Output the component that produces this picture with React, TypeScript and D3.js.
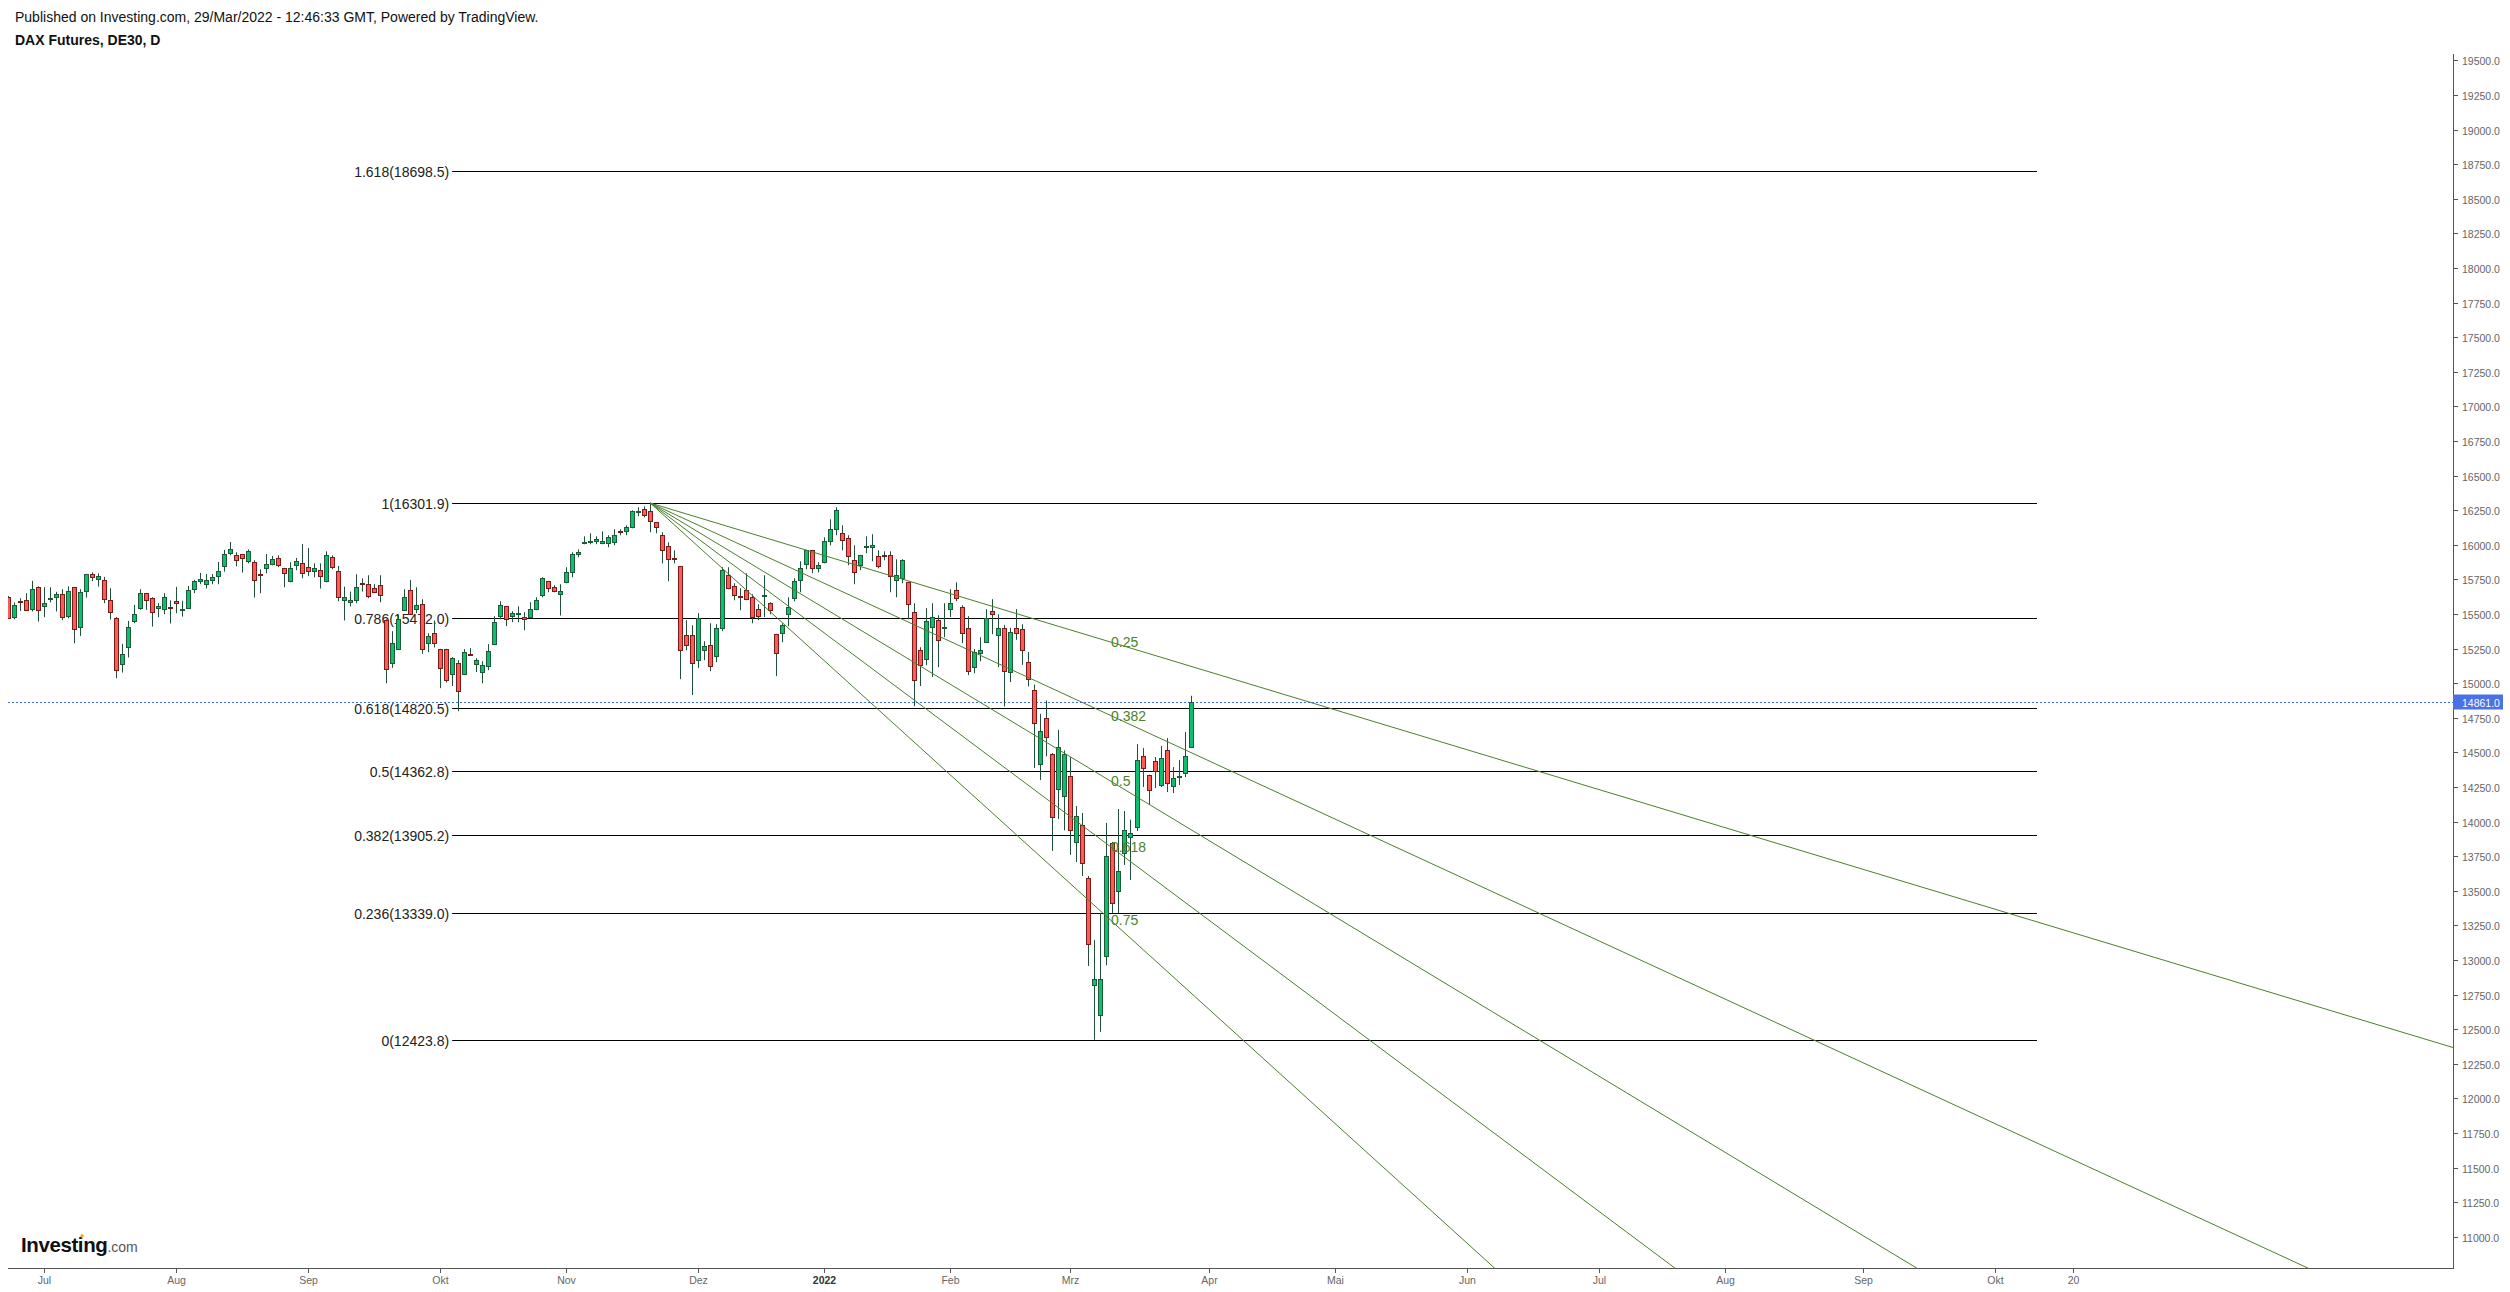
import React from "react";
import * as d3 from "d3";

// ---------- data ----------
const opens = [
  15626, 15477, 15595, 15599, 15534, 15698, 15556, 15611, 15621, 15643,
  15484, 15693, 15409, 15664, 15787, 15756, 15744, 15599, 15469, 15137,
  15265, 15448, 15542, 15650, 15614, 15542, 15534, 15554, 15592, 15534,
  15542, 15679, 15737, 15715, 15744, 15773, 15845, 15939, 15924, 15931,
  15881, 15874, 15787, 15830, 15859, 15903, 15830, 15737, 15852, 15866,
  15838, 15809, 15816, 15737, 15910, 15809, 15599, 15585, 15599, 15722,
  15715, 15686, 15708, 15460, 15145, 15246, 15527, 15672, 15534, 15570,
  15289, 15366, 15246, 15246, 15065, 15145, 15065, 15212, 15137, 15080,
  15123, 15282, 15484, 15556, 15484, 15503, 15477, 15477, 15534, 15635,
  15737, 15693, 15643, 15729, 15801, 15931, 16016, 16023, 16025, 16011,
  16011, 16018, 16100, 16097, 16126, 16239, 16256, 16242, 16162, 16069,
  15989, 15907, 15845, 15347, 15347, 15166, 15238, 15275, 15195, 15397,
  15780, 15700, 15631, 15672, 15621, 15534, 15631, 15578, 15354, 15361,
  15498, 15614, 15744, 15859, 15960, 15830, 15874, 16025, 16112, 16083,
  16047, 15888, 15852, 15987, 15982, 15917, 15927, 15924, 15744, 15758,
  15729, 15513, 15238, 15173, 15404, 15455, 15402, 15534, 15672, 15549,
  15397, 15116, 15217, 15296, 15520, 15347, 15400, 15080, 15397, 15392,
  15156, 14952, 14416, 14748, 14490, 14235, 14185, 14329, 13853, 13975,
  13593, 12820, 12604, 13030, 13845, 13499, 13773, 13889, 13961, 14473,
  14336, 14437, 14264, 14517, 14257, 14324, 14351, 14538,
];
const highs = [
  15630, 15583, 15614, 15650, 15739, 15700, 15693, 15693, 15660, 15679,
  15700, 15696, 15679, 15790, 15801, 15794, 15768, 15686, 15477, 15284,
  15450, 15566, 15679, 15652, 15621, 15578, 15650, 15599, 15696, 15595,
  15703, 15746, 15797, 15789, 15789, 15876, 15963, 16020, 15946, 15934,
  15967, 15888, 15823, 15934, 15919, 15924, 15833, 15874, 15905, 16006,
  15977, 15866, 15866, 15953, 15924, 15847, 15698, 15662, 15787, 15758,
  15780, 15715, 15780, 15462, 15376, 15491, 15679, 15746, 15693, 15607,
  15361, 15453, 15248, 15248, 15188, 15166, 15246, 15253, 15181, 15159,
  15282, 15484, 15592, 15558, 15520, 15556, 15513, 15585, 15621, 15765,
  15739, 15708, 15715, 15838, 15946, 15967, 16061, 16083, 16061, 16097,
  16069, 16112, 16112, 16141, 16249, 16271, 16278, 16301.9, 16165, 16090,
  16018, 15960, 15847, 15455, 15419, 15506, 15303, 15433, 15426, 15838,
  15838, 15722, 15686, 15794, 15643, 15570, 15780, 15585, 15356, 15433,
  15621, 15758, 15881, 15963, 15963, 15874, 16054, 16184, 16271, 16141,
  16069, 15996, 15927, 16061, 16076, 15960, 15953, 15953, 15895, 15895,
  15732, 15578, 15260, 15542, 15578, 15491, 15578, 15679, 15729, 15563,
  15484, 15246, 15332, 15534, 15607, 15498, 15420, 15400, 15535, 15426,
  15226, 14990, 14779, 14875, 14495, 14663, 14514, 14466, 14112, 14062,
  13607, 13145, 13340, 13990, 13853, 14091, 14076, 14014, 14560, 14531,
  14339, 14466, 14545, 14603, 14394, 14444, 14647, 14909,
];
const lows = [
  15465, 15462, 15522, 15524, 15518, 15445, 15477, 15583, 15518, 15455,
  15469, 15289, 15342, 15619, 15737, 15698, 15578, 15460, 15036, 15077,
  15186, 15433, 15530, 15530, 15409, 15477, 15498, 15431, 15506, 15481,
  15538, 15650, 15715, 15684, 15715, 15715, 15806, 15924, 15845, 15799,
  15866, 15619, 15650, 15794, 15852, 15838, 15693, 15729, 15816, 15758,
  15773, 15765, 15684, 15729, 15823, 15592, 15453, 15554, 15578, 15662,
  15614, 15650, 15585, 15000, 15111, 15241, 15525, 15496, 15506, 15212,
  15224, 15258, 14964, 15005, 14979, 14798, 15063, 15198, 15080, 15000,
  15094, 15279, 15462, 15412, 15441, 15441, 15383, 15474, 15527, 15621,
  15657, 15657, 15489, 15722, 15765, 15910, 16004, 16004, 16004, 16004,
  15982, 15996, 16069, 16069, 16119, 16206, 16198, 16090, 16083, 15866,
  15737, 15866, 15029, 15238, 14914, 15109, 15166, 15087, 15152, 15376,
  15679, 15599, 15527, 15599, 15433, 15455, 15477, 15498, 15051, 15296,
  15412, 15592, 15657, 15823, 15794, 15801, 15866, 15996, 16069, 15960,
  15852, 15715, 15816, 15939, 15881, 15830, 15888, 15657, 15621, 15722,
  15462, 14834, 14979, 15130, 15044, 15116, 15332, 15477, 15592, 15289,
  15058, 15072, 15159, 15294, 15354, 15116, 14832, 15008, 15313, 15133,
  14976, 14387, 14300, 14471, 13788, 14019, 13937, 13759, 13708, 13607,
  12957, 12423.8, 12481, 12962, 13340, 13340, 13687, 13578, 13932, 14250,
  14120, 14242, 14250, 14213, 14206, 14264, 14322, 14535,
];
const closes = [
  15469, 15563, 15585, 15527, 15679, 15527, 15578, 15616, 15643, 15477,
  15664, 15390, 15657, 15787, 15765, 15773, 15607, 15513, 15094, 15210,
  15404, 15498, 15650, 15599, 15513, 15556, 15621, 15549, 15578, 15539,
  15672, 15737, 15751, 15744, 15765, 15809, 15931, 15967, 15888, 15903,
  15953, 15744, 15782, 15859, 15895, 15852, 15794, 15830, 15881, 15794,
  15809, 15830, 15773, 15924, 15838, 15621, 15621, 15599, 15698, 15717,
  15628, 15657, 15640, 15101, 15289, 15467, 15621, 15498, 15563, 15246,
  15340, 15289, 15109, 15022, 15181, 14943, 15224, 15207, 15166, 15130,
  15231, 15441, 15563, 15462, 15506, 15508, 15462, 15534, 15599, 15758,
  15686, 15664, 15664, 15801, 15931, 15946, 16020, 16028, 16040, 16025,
  16054, 16069, 16095, 16126, 16242, 16244, 16213, 16170, 16126, 15960,
  15895, 15903, 15238, 15275, 15145, 15469, 15267, 15123, 15397, 15816,
  15686, 15635, 15626, 15607, 15477, 15484, 15635, 15527, 15217, 15419,
  15549, 15737, 15830, 15960, 15830, 15852, 16025, 16112, 16249, 16032,
  15917, 15801, 15924, 15992, 15996, 15845, 15922, 15773, 15780, 15888,
  15570, 15022, 15130, 15448, 15477, 15311, 15407, 15578, 15614, 15361,
  15087, 15224, 15238, 15469, 15498, 15397, 15090, 15369, 15366, 15241,
  15031, 14711, 14656, 14610, 14033, 14538, 14488, 13939, 14040, 13701,
  13116, 12864, 12864, 13751, 13412, 13643, 13939, 13917, 14444, 14387,
  14228, 14365, 14459, 14278, 14314, 14329, 14473, 14861,
];

const firstSession = "2021-06-23";
const exchangeHolidays = ["2021-12-24", "2021-12-31"];

const priceTicks = [
  11000, 11250, 11500, 11750, 12000, 12250, 12500, 12750, 13000, 13250, 13500,
  13750, 14000, 14250, 14500, 14750, 15000, 15250, 15500, 15750, 16000, 16250,
  16500, 16750, 17000, 17250, 17500, 17750, 18000, 18250, 18500, 18750, 19000,
  19250, 19500,
];

const timeTickDates = [
  "2021-07-01", "2021-08-02", "2021-09-01", "2021-10-01", "2021-11-01",
  "2021-12-01", "2022-01-03", "2022-02-01", "2022-03-01", "2022-04-01",
  "2022-05-02", "2022-06-01", "2022-07-01", "2022-08-01", "2022-09-01",
  "2022-10-03", "2022-10-20",
];
const timeTickLabels = [
  "Jul", "Aug", "Sep", "Okt", "Nov", "Dez", "2022", "Feb", "Mrz", "Apr",
  "Mai", "Jun", "Jul", "Aug", "Sep", "Okt", "20",
];

const fibRatioLabels = ["0", "0.236", "0.382", "0.5", "0.618", "0.786", "1", "1.618"];
const fibPrices = [12423.8, 13339.0, 13905.2, 14362.8, 14820.5, 15472.0, 16301.9, 18698.5];
const fibStartDate = "2021-10-05";
const fibEndDate = "2022-10-12";

const fanLevels = [0.25, 0.382, 0.5, 0.618, 0.75];
const fanHighDate = "2021-11-19";
const fanLowDate = "2022-03-07";
const fanHigh = 16301.9;
const fanLow = 12423.8;

const lastPrice = 14861.0;

// ---------- helpers ----------
function buildSessions(start: string, count: number, holidays: string[]) {
  const out: string[] = [];
  const d = new Date(start + "T00:00:00Z");
  while (out.length < count) {
    const wd = d.getUTCDay();
    const s = d.toISOString().slice(0, 10);
    if (wd !== 0 && wd !== 6 && !holidays.includes(s)) out.push(s);
    d.setUTCDate(d.getUTCDate() + 1);
  }
  return out;
}
const sessions = buildSessions(firstSession, 460, exchangeHolidays);
const idxOf = (s: string) => sessions.indexOf(s);

const FONT = "Arial, 'Liberation Sans', Helvetica, sans-serif";
const UP_FILL = "#0cbf6e";
const UP_BORDER = "#1d5a38";
const DN_FILL = "#ff5b52";
const DN_BORDER = "#7a1a1a";
const WICK = "#21503a";
const FAN = "#4c7f2c";
const FAN_TEXT = "#4a8429";

export default function App() {
  const left = 8;
  const right = 2453;
  const top = 54;
  const bottom = 1268;

  const x = d3.scaleLinear().domain([0, 407.3]).range([7.9, right]);
  const y = d3
    .scaleLinear()
    .domain([fanHigh, fanLow])
    .range([503, 503 + (fanHigh - fanLow) * 0.1384]);

  const i0 = idxOf(fanHighDate);
  const i1 = idxOf(fanLowDate);
  const fx0 = x(i0);
  const fy0 = y(fanHigh);
  const fx1 = x(i1);

  const fibX0 = x(idxOf(fibStartDate));
  const fibX1 = x(idxOf(fibEndDate));

  const ly = Math.round(y(lastPrice)) + 0.5;

  return (
    <svg
      width={2510}
      height={1292}
      style={{ position: "absolute", left: 0, top: 0, background: "#fff" }}
      fontFamily={FONT}
    >
      <rect x={0} y={0} width={2510} height={1292} fill="#fff" />
      <defs>
        <clipPath id="plot">
          <rect x={left} y={top} width={right - left} height={bottom - top} />
        </clipPath>
      </defs>

      {/* header */}
      <text x={15} y={22} fontSize={14} fill="#111">
        Published on Investing.com, 29/Mar/2022 - 12:46:33 GMT, Powered by TradingView.
      </text>
      <text x={15} y={45} fontSize={14} fontWeight="bold" fill="#111">
        DAX Futures, DE30, D
      </text>

      <g clipPath="url(#plot)">
        {/* fib retracement levels */}
        {fibPrices.map((p, k) => {
          const yy = Math.round(y(p)) + 0.5;
          return (
            <g key={"fib" + k}>
              <line x1={fibX0} x2={fibX1} y1={yy} y2={yy} stroke="#000" strokeWidth={1} />
              <text
                x={fibX0 - 3}
                y={yy}
                fontSize={14}
                fill="#222"
                textAnchor="end"
                dominantBaseline="central"
              >
                {`${fibRatioLabels[k]}(${p.toFixed(1)})`}
              </text>
            </g>
          );
        })}

        {/* last price dashed line */}
        <line
          x1={left}
          x2={right}
          y1={ly}
          y2={ly}
          stroke="#3d6cf2"
          strokeWidth={1}
          strokeDasharray="2 2"
        />

        {/* candles */}
        {opens.map((o, i) => {
          const c = closes[i];
          const up = c >= o;
          const cx = Math.round(x(i));
          const t = Math.round(y(Math.max(o, c)));
          const b = Math.round(y(Math.min(o, c)));
          return (
            <g key={"c" + i}>
              <line
                x1={cx + 0.5}
                x2={cx + 0.5}
                y1={y(highs[i])}
                y2={y(lows[i])}
                stroke={WICK}
                strokeWidth={1}
              />
              <rect
                x={cx - 1.5}
                y={t + 0.5}
                width={4}
                height={Math.max(b - t, 1)}
                fill={up ? UP_FILL : DN_FILL}
                stroke={up ? UP_BORDER : DN_BORDER}
                strokeWidth={1}
              />
            </g>
          );
        })}

        {/* fib speed fan */}
        {fanLevels.map((r, k) => {
          const p = fanHigh - r * (fanHigh - fanLow);
          const slope = (y(p) - fy0) / (fx1 - fx0);
          const xEnd = right + 5;
          const yEnd = fy0 + slope * (xEnd - fx0);
          const lx = fx1 + 16.5;
          const lyy = fy0 + slope * (lx - fx0);
          return (
            <g key={"fan" + k}>
              <line x1={fx0} y1={fy0} x2={xEnd} y2={yEnd} stroke={FAN} strokeWidth={1} />
              <text
                x={lx}
                y={lyy}
                fontSize={14}
                fill={FAN_TEXT}
                dominantBaseline="central"
              >
                {String(r)}
              </text>
            </g>
          );
        })}
      </g>

      {/* right price axis */}
      <line x1={right + 0.5} x2={right + 0.5} y1={top} y2={bottom + 0.5} stroke="#555" />
      {priceTicks.map((v) => {
        const yy = Math.round(y(v)) + 0.5;
        return (
          <g key={"pt" + v}>
            <line x1={right} x2={right + 5} y1={yy} y2={yy} stroke="#555" />
            <text x={right + 9} y={yy} fontSize={10.5} fill="#666" dominantBaseline="central">
              {v.toFixed(1)}
            </text>
          </g>
        );
      })}
      <rect x={right} y={ly - 8} width={50} height={15} fill="#4a72e6" />
      <text x={right + 9} y={ly} fontSize={10.5} fill="#fff" dominantBaseline="central">
        {lastPrice.toFixed(1)}
      </text>

      {/* bottom time axis */}
      <line x1={left} x2={right + 1} y1={bottom + 0.5} y2={bottom + 0.5} stroke="#555" />
      {timeTickDates.map((d, k) => {
        const xx = Math.round(x(idxOf(d))) + 0.5;
        const lbl = timeTickLabels[k];
        return (
          <g key={"tt" + k}>
            <line x1={xx} x2={xx} y1={bottom} y2={bottom + 5} stroke="#555" />
            <text
              x={xx}
              y={bottom + 12}
              fontSize={10.5}
              fill={lbl === "2022" ? "#333" : "#666"}
              fontWeight={lbl === "2022" ? "bold" : "normal"}
              textAnchor="middle"
              dominantBaseline="central"
            >
              {lbl}
            </text>
          </g>
        );
      })}

      {/* logo */}
      <text x={21} y={1252} fontSize={20.5} fontWeight="bold" fill="#111" letterSpacing={-0.4}>
        Investing
        <tspan fontSize={14} fontWeight="normal" fill="#555" letterSpacing={0}>
          .com
        </tspan>
      </text>
      <rect x={80.5} y={1234.5} width={3} height={3} fill="#f5a623" transform="rotate(20 82 1236)" />
    </svg>
  );
}
